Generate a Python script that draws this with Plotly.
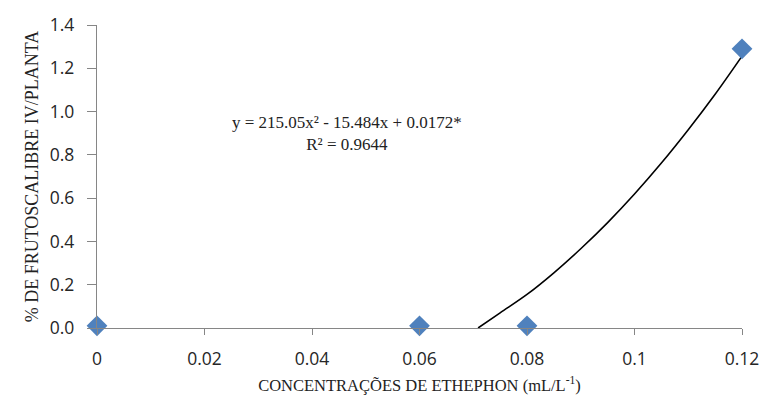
import plotly.graph_objects as go

# Observed data
conc = [0, 0.06, 0.08, 0.12]
frutos = [0.01, 0.01, 0.01, 1.29]

# Trendline
trend_x = [0.0709, 0.075, 0.08, 0.085, 0.09, 0.095, 0.10, 0.105, 0.11, 0.115, 0.12]
trend_y = [0.0, 0.07, 0.155, 0.255, 0.366, 0.487, 0.619, 0.762, 0.916, 1.080, 1.256]

x_ticks = [0, 0.02, 0.04, 0.06, 0.08, 0.10, 0.12]
x_tick_text = ["0", "0.02", "0.04", "0.06", "0.08", "0.1", "0.12"]
y_ticks = [0.0, 0.2, 0.4, 0.6, 0.8, 1.0, 1.2, 1.4]

eq_line1 = "y = 215.05x² - 15.484x + 0.0172*"
eq_line2 = "R² = 0.9644"

AXIS = "#868686"
TICKFONT = dict(family="Open Sans", size=17.5, color="#262626")
SERIF = "Liberation Serif, Times New Roman, serif"

fig = go.Figure()
fig.add_trace(go.Scatter(x=trend_x, y=trend_y, mode="lines",
                         line=dict(color="black", width=1.6, shape="spline"),
                         hoverinfo="skip", cliponaxis=False))
fig.add_trace(go.Scatter(x=conc, y=frutos, mode="markers",
                         marker=dict(symbol="diamond", size=16, color="#4F81BD"),
                         cliponaxis=False))

fig.update_layout(
    width=771, height=405,
    margin=dict(l=97, r=24, t=20, b=77),
    paper_bgcolor="white", plot_bgcolor="white",
    showlegend=False,
    xaxis=dict(range=[0, 0.12], tickvals=x_ticks, ticktext=x_tick_text,
               showgrid=False, zeroline=False, showline=True, linecolor=AXIS, linewidth=1.3,
               ticks="outside", ticklen=6, tickcolor=AXIS, tickwidth=1.3,
               tickfont=TICKFONT, ticklabelstandoff=9,
               title=dict(text="CONCENTRAÇÕES DE ETHEPHON (mL/L<sup>-1</sup>)",
                          font=dict(family=SERIF, size=16.5, color="#222"),
                          standoff=10)),
    yaxis=dict(range=[0, 1.4], tickvals=y_ticks, tickformat=".1f",
               showgrid=False, zeroline=False, showline=True, linecolor=AXIS, linewidth=1.3,
               ticks="outside", ticklen=9, tickcolor=AXIS, tickwidth=1.3,
               tickfont=TICKFONT, ticklabelstandoff=9,
               title=dict(text="% DE FRUTOSCALIBRE IV/PLANTA",
                          font=dict(family=SERIF, size=18, color="#222"),
                          standoff=6)),
)

fig.add_annotation(x=0.0465, y=0.897, xref="x", yref="y", showarrow=False,
                   text=eq_line1 + "<br>" + eq_line2, align="center",
                   font=dict(family=SERIF, size=17, color="#222"))

fig.write_html("out.html")
